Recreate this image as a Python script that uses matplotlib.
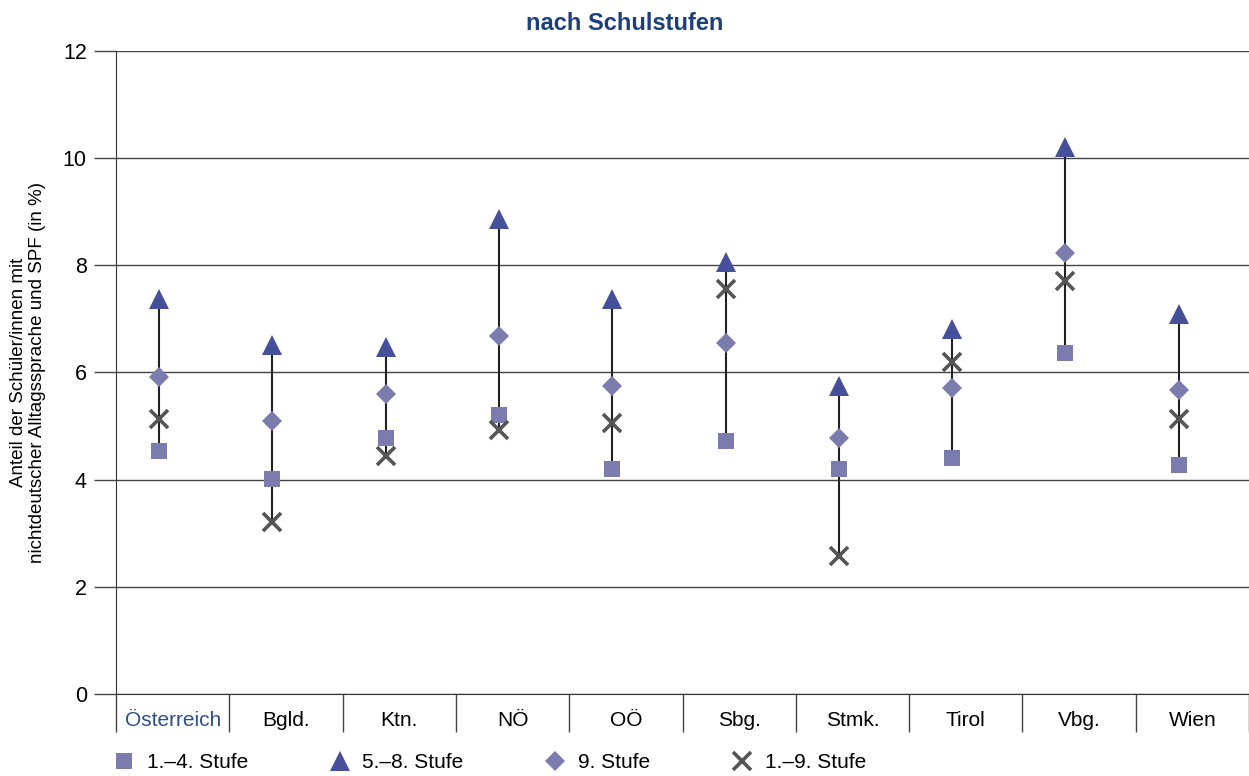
import numpy as np
import matplotlib.pyplot as plt
from matplotlib.lines import Line2D

plt.rcParams['font.family'] = ['Liberation Sans', 'DejaVu Sans']

laender = ['Österreich', 'Bgld.', 'Ktn.', 'NÖ', 'OÖ', 'Sbg.', 'Stmk.', 'Tirol', 'Vbg.', 'Wien']
stufe_1_4 = [4.53, 4.01, 4.78, 5.21, 4.20, 4.72, 4.20, 4.40, 6.36, 4.27]
stufe_5_8 = [7.38, 6.51, 6.47, 8.86, 7.37, 8.06, 5.75, 6.81, 10.21, 7.09]
stufe_9 = [5.91, 5.09, 5.60, 6.68, 5.75, 6.55, 4.78, 5.71, 8.23, 5.67]
stufe_1_9 = [5.14, 3.21, 4.44, 4.92, 5.06, 7.56, 2.58, 6.19, 7.70, 5.13]

c_square = '#7b7bae'
c_tri = '#46509a'
c_dia = '#7b7bae'
c_x = '#555555'
c_title = '#1d3f7c'

fig = plt.figure(figsize=(12.49, 7.76), dpi=100)
ax = fig.add_axes([0.0929, 0.1057, 0.9071, 0.8286])

x = np.arange(len(laender)) - 0.12
alle = np.array([stufe_1_4, stufe_5_8, stufe_9, stufe_1_9])
ax.vlines(x, alle.min(axis=0), alle.max(axis=0), color='#222222', lw=1.5, zorder=2)

ax.plot(x, stufe_1_4, 's', color=c_square, ms=12, mew=0, zorder=3)
ax.plot(x, stufe_5_8, '^', color=c_tri, ms=15, mew=0, zorder=3)
ax.plot(x, stufe_9, 'D', color=c_dia, ms=10, mew=0, zorder=3)
ax.plot(x, stufe_1_9, 'x', color=c_x, ms=13, mew=2.6, zorder=4)

ax.set_xlim(-0.5, len(laender) - 0.5)
ax.set_ylim(0, 12)
ax.set_yticks(range(0, 13, 2))
ax.yaxis.grid(True, color='#444444', lw=1)
ax.set_axisbelow(True)
ax.tick_params(axis='y', length=16, width=1, color='#444444', labelsize=15.5, pad=5)

ax.set_xticks(range(len(laender)))
ax.set_xticklabels(laender, fontsize=15)
ax.get_xticklabels()[0].set_color('#2b4f8f')
ax.tick_params(axis='x', which='major', length=0, pad=12)
ax.set_xticks(np.arange(-0.5, len(laender)), minor=True)
ax.tick_params(axis='x', which='minor', length=27, width=1, color='#444444')

for s in ['top', 'right']:
    ax.spines[s].set_visible(False)
ax.spines['left'].set_color('#333333')
ax.spines['bottom'].set_color('#333333')

ax.set_ylabel('Anteil der Schüler/innen mit\nnichtdeutscher Alltagssprache und SPF (in %)',
              fontsize=13.5, labelpad=12)
fig.text(0.5, 0.97, 'nach Schulstufen', ha='center', va='center',
         fontsize=17, fontweight='bold', color=c_title)

handles = [
    Line2D([], [], ls='', marker='s', color=c_square, ms=12, mew=0),
    Line2D([], [], ls='', marker='^', color=c_tri, ms=15, mew=0),
    Line2D([], [], ls='', marker='D', color=c_dia, ms=10, mew=0),
    Line2D([], [], ls='', marker='x', color=c_x, ms=13, mew=2.6),
]
fig.legend(handles, ['1.–4. Stufe', '5.–8. Stufe', '9. Stufe', '1.–9. Stufe'],
           loc='center left', bbox_to_anchor=(0.074, 0.017), ncol=4, frameon=False,
           fontsize=15, columnspacing=3.8, handletextpad=0.5, handlelength=1.2)

fig.savefig('out.png', dpi=100)
